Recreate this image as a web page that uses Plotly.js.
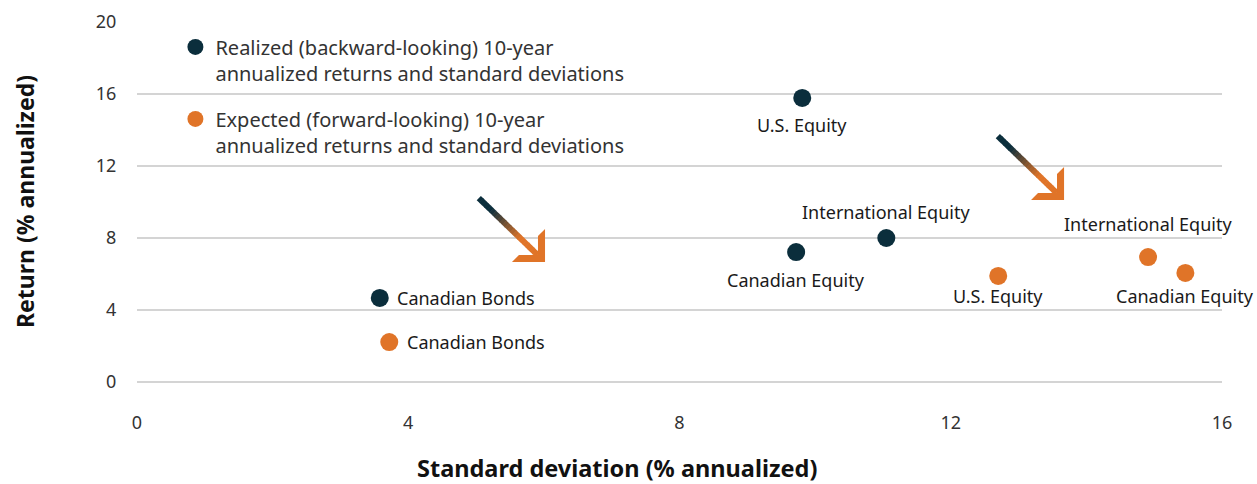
<!DOCTYPE html>
<html><head><meta charset="utf-8">
<script src="https://cdn.plot.ly/plotly-3.0.1.min.js"></script>
<style>html,body{margin:0;padding:0;background:#fff}#chart{width:1257px;height:484px}</style>
</head><body><div id="chart"></div>
<script>
var assets = ["Canadian Bonds", "Canadian Equity", "International Equity", "U.S. Equity"];
var realizedSD = [3.58, 9.72, 11.05, 9.81];
var realizedRet = [4.67, 7.22, 8.0, 15.78];
var expectedSD = [3.72, 15.46, 14.91, 12.7];
var expectedRet = [2.22, 6.06, 6.94, 5.89];
var xTicks = [0, 4, 8, 12, 16];
var yTicks = [0, 4, 8, 12, 16, 20];

// label placement (style only): [xanchor, xshift px, yshift px]
var realizedLabelPlace = [["left", 15.5, 0], ["center", 0, -27.5], ["center", 0, 26.5], ["center", 0, -27]];
var expectedLabelPlace = [["left", 15.5, 0], ["center", 0, -23], ["center", 0, 33], ["center", 0, -20.5]];

var NAVY = "#0b2e3c", ORANGE = "#e07428";
var FONT = "Noto Sans, sans-serif";

var traces = [
  {type:"scatter", mode:"markers", name:"Realized (backward-looking) 10-year<br>annualized returns and standard deviations",
   x:realizedSD, y:realizedRet, marker:{color:NAVY, size:18}, cliponaxis:false, legend:"legend", hoverinfo:"skip"},
  {type:"scatter", mode:"markers", name:"Expected (forward-looking) 10-year<br>annualized returns and standard deviations",
   x:expectedSD, y:expectedRet, marker:{color:ORANGE, size:18}, cliponaxis:false, legend:"legend2", hoverinfo:"skip"}
];

var annotations = [];
function addLabels(xs, ys, place){
  xs.forEach(function(xv, i){
    annotations.push({x:xv, y:ys[i], xref:"x", yref:"y", text:assets[i], showarrow:false,
      xanchor:place[i][0], yanchor:"middle", xshift:place[i][1], yshift:place[i][2],
      font:{family:FONT, size:18, color:"#1a1a1a"}});
  });
}
addLabels(realizedSD, realizedRet, realizedLabelPlace);
addLabels(expectedSD, expectedRet, expectedLabelPlace);
annotations.push(
  {text:"<b>Return (% annualized)</b>", xref:"paper", yref:"paper", x:-0.1032, y:0.5, xanchor:"center", yanchor:"middle",
   textangle:-90, showarrow:false, font:{family:FONT, size:23, color:"#111"}},
  {text:"<b>Standard deviation (% annualized)</b>", xref:"paper", yref:"paper", x:0.4424, y:-0.239, xanchor:"center", yanchor:"middle",
   showarrow:false, font:{family:FONT, size:23.5, color:"#111"}}
);

// decorative gradient arrows
function hex2rgb(h){return [parseInt(h.substr(1,2),16),parseInt(h.substr(3,2),16),parseInt(h.substr(5,2),16)];}
function mix(a,b,t){var A=hex2rgb(a),B=hex2rgb(b);return "rgb("+A.map(function(v,i){return Math.round(v+(B[i]-v)*t);}).join(",")+")";}
var arrowOffsets = [[0,0],[7.654,3.444]];
var shaft = {x0:5.04, y0:10.22, x1:5.94, y1:6.94};
var head = [[6.017,8.5],[6.017,6.667],[5.53,6.667],[5.633,7.056],[5.913,7.056],[5.913,8.111]];
var shapes = [];
arrowOffsets.forEach(function(o){
  var n = 24;
  for (var i=0;i<n;i++){
    var t0=i/n, t1=(i+1.15)/n; if(t1>1)t1=1;
    var tc=(i+0.5)/n;
    var k = tc<0.2?0:(tc>0.68?1:(tc-0.2)/0.48);
    shapes.push({type:"line", xref:"x", yref:"y",
      x0:o[0]+shaft.x0+(shaft.x1-shaft.x0)*t0, y0:o[1]+shaft.y0+(shaft.y1-shaft.y0)*t0,
      x1:o[0]+shaft.x0+(shaft.x1-shaft.x0)*t1, y1:o[1]+shaft.y0+(shaft.y1-shaft.y0)*t1,
      line:{color:mix(NAVY,ORANGE,k), width:6}, layer:"above"});
  }
  var p = head.map(function(q,j){return (j?"L":"M")+(q[0]+o[0])+","+(q[1]+o[1]);}).join("")+"Z";
  shapes.push({type:"path", xref:"x", yref:"y", path:p, fillcolor:ORANGE, line:{width:0}, layer:"above"});
});

var layout = {
  width:1257, height:484,
  margin:{l:137, r:35, t:22, b:102},
  paper_bgcolor:"#fff", plot_bgcolor:"#fff",
  font:{family:FONT, color:"#333"},
  showlegend:true,
  xaxis:{range:[0,16], tickvals:xTicks, ticktext:xTicks.map(String), showgrid:false, zeroline:false,
         showline:false, ticks:"outside", ticklen:24, tickcolor:"rgba(0,0,0,0)", tickfont:{family:FONT, size:18, color:"#333"}, fixedrange:true},
  yaxis:{range:[0,20], tickvals:yTicks, ticktext:yTicks.map(String), showgrid:true, gridcolor:"#d4d4d4", gridwidth:1.3,
         zeroline:true, zerolinecolor:"#d4d4d4", zerolinewidth:1.3, showline:false, ticks:"outside", ticklen:16,
         tickcolor:"rgba(0,0,0,0)", tickfont:{family:FONT, size:18, color:"#333"}, fixedrange:true},
  legend:{x:0.0354, y:0.985, xanchor:"left", yanchor:"top", bgcolor:"rgba(0,0,0,0)", valign:"top",
          font:{family:FONT, size:20, color:"#333"}, itemclick:false},
  legend2:{x:0.0354, y:0.785, xanchor:"left", yanchor:"top", bgcolor:"rgba(0,0,0,0)", valign:"top",
          font:{family:FONT, size:20, color:"#333"}, itemclick:false},
  shapes:shapes,
  annotations:annotations
};
Plotly.newPlot("chart", traces, layout, {displayModeBar:false, staticPlot:true});
</script></body></html>
